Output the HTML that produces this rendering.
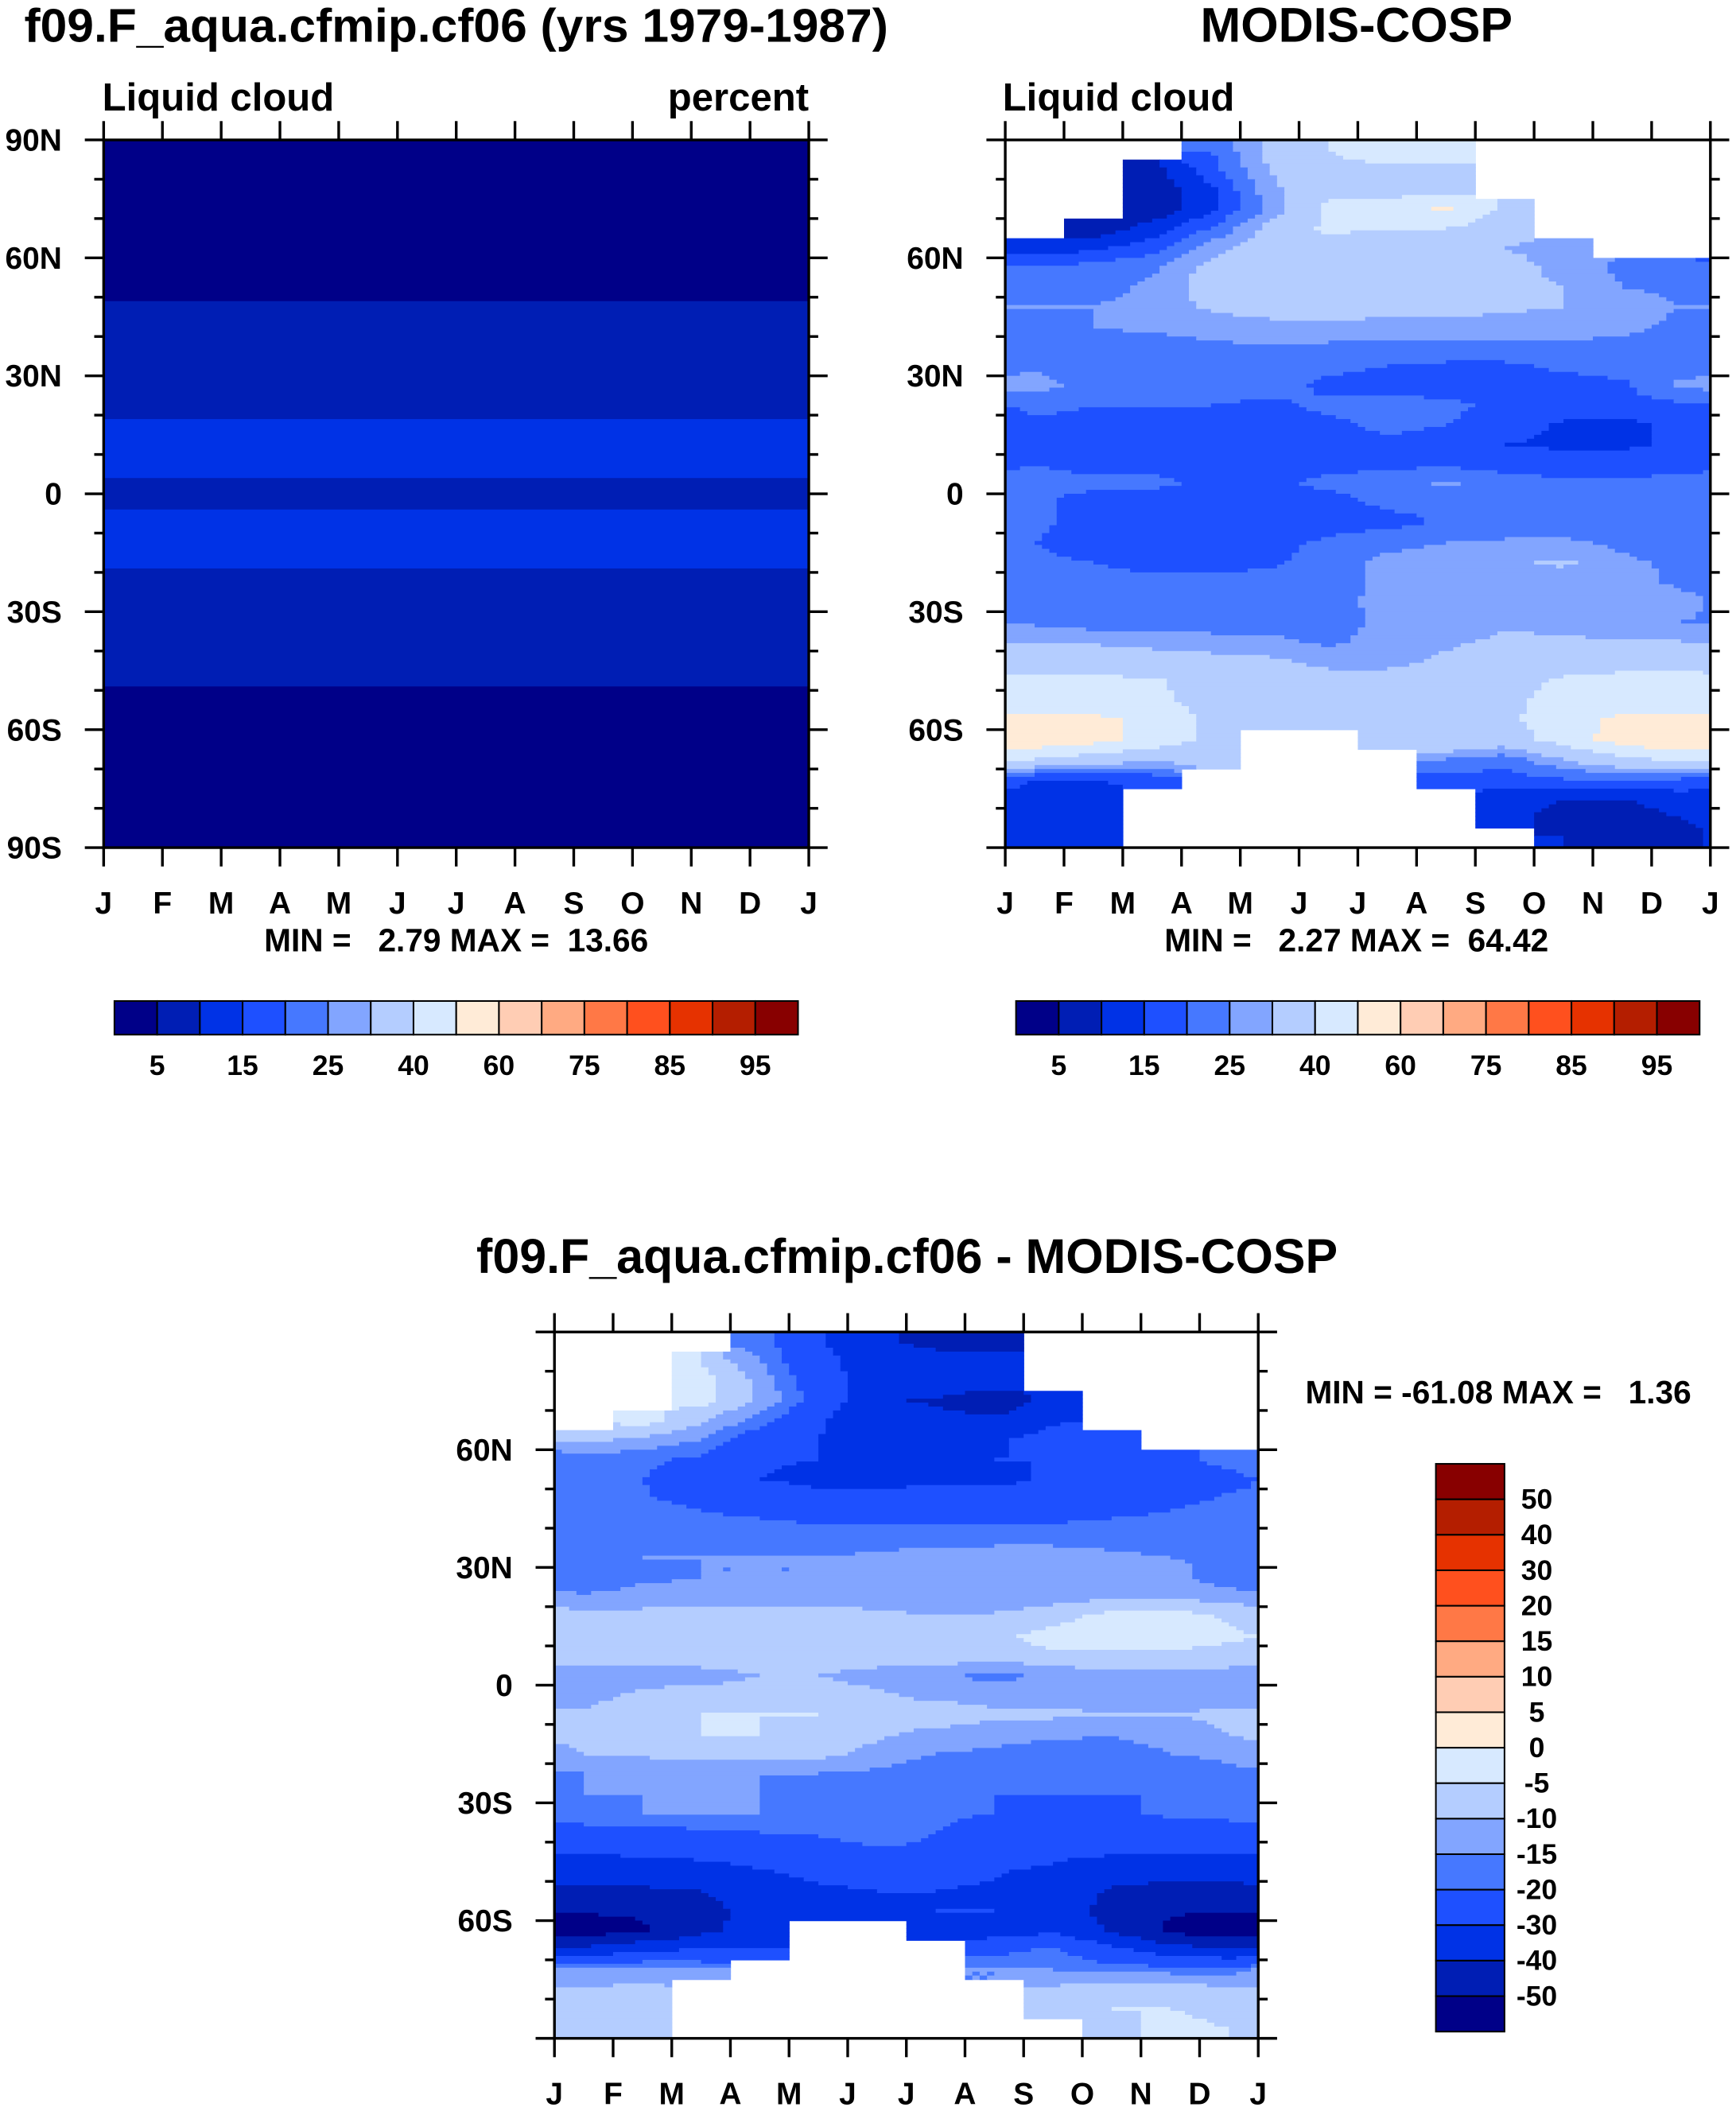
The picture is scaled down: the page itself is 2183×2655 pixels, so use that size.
<!DOCTYPE html>
<html><head><meta charset="utf-8"><style>
html,body{margin:0;padding:0;background:#fff}
svg{display:block}
text{font-family:"Liberation Sans",Arial,sans-serif;font-weight:bold;fill:#000}
</style></head><body>
<svg id="fig" xmlns="http://www.w3.org/2000/svg" width="2183" height="2655" viewBox="0 0 1290 1569">
<rect width="1290" height="1569" fill="#fff"/>
<text x="18" y="31" font-size="35" textLength="642" lengthAdjust="spacingAndGlyphs">f09.F_aqua.cfmip.cf06 (yrs 1979-1987)</text>
<text x="1008" y="31" font-size="36" text-anchor="middle">MODIS-COSP</text>
<text x="76" y="82" font-size="29">Liquid cloud</text>
<text x="601" y="82" font-size="29" text-anchor="end">percent</text>
<text x="745" y="82" font-size="29">Liquid cloud</text>
<text x="339" y="707" font-size="24" text-anchor="middle" xml:space="preserve">MIN =   2.79 MAX =  13.66</text>
<text x="1008" y="707" font-size="24" text-anchor="middle" xml:space="preserve">MIN =   2.27 MAX =  64.42</text>
<text x="674" y="946" font-size="36" text-anchor="middle">f09.F_aqua.cfmip.cf06 - MODIS-COSP</text>
<text x="970" y="1043" font-size="24" xml:space="preserve">MIN = -61.08 MAX =   1.36</text>
<g id="layer"></g>
</svg>
<script>
// ---- data ----
const months = ["J","F","M","A","M","J","J","A","S","O","N","D","J"];
const latTicks = [90,60,30,0,-30,-60,-90];
const latTickLabels = ["90N","60N","30N","0","30S","60S","90S"];
const absLevels = [5,10,15,20,25,30,40,50,60,70,75,80,85,90,95];
const absLabels = ["5","15","25","40","60","75","85","95"];
const diffLevels = [-50,-40,-30,-20,-15,-10,-5,0,5,10,15,20,30,40,50];
const diffLabels = ["50","40","30","20","15","10","5","0","-5","-10","-15","-20","-30","-40","-50"];
const palette = ['#000088','#001eb4','#0032e6','#1e50ff','#4678ff','#82a5ff','#b4cdff','#d7e9ff','#ffebd7','#ffcdb4','#ffaa82','#ff7846','#ff501e','#e63200','#b41e00','#880000'];
// model zonal-mean liquid cloud (%), rows 87.5N .. 87.5S every 5 deg
const modelProfile = [3,3,3,3,3,3,3,3, 5.5,7,7,7,7,7, 11,12,12, 9,9, 12,12,11, 7,7,7,7,7,5.5, 3,3,3,3,3,3,3,3];
const n = null;
// MODIS liquid cloud (%), rows 87.5N..87.5S, cols Jan..Dec
const obs = [
[n,n,n,20,32,40,48,48,n,n,n,n],
[n,n,8,18,30,38,36,36,n,n,n,n],
[n,n,6,14,28,38,36,36,n,n,n,n],
[n,n,6,14,26,42,44,52,38,n,n,n],
[n,6,12,20,32,42,40,40,34,n,n,n],
[12,14,18,28,33,35,35,34,30,27,n,n],
[20,22,24,32,33,35,35,33,33,28,24,22],
[22,23,26,33,35,35,35,35,32,30,25,24],
[25,25,27,31,33,33,32,32,31,30,27,25],
[22,25,26,27,28,29,28,28,28,27,26,24],
[23,23,23,24,25,24,24,24,24,24,24,23],
[24,22,22,22,22,21,20,19,19,21,22,23],
[27,23,22,22,22,19,18,18,18,18,19,26],
[21,20,20,20,19,21,22,21,19,18,18,19],
[19,19,18,18,18,19,21,20,18,14,13,17],
[18,18,17,18,18,18,19,18,15,14,14,16],
[20,19,19,19,19,19,19,19,18,18,18,19],
[21,21,21,19,19,21,22,26,22,21,21,21],
[21,18,17,17,17,18,21,21,21,21,21,21],
[21,18,17,17,17,18,18,21,21,22,22,21],
[20,18,17,17,18,21,24,25,26,26,24,22],
[21,20,18,18,19,23,26,27,29,31,26,24],
[22,22,22,22,22,23,26,27,27,27,27,24],
[22,22,22,22,23,24,26,27,27,27,27,27],
[24,22,22,22,23,23,26,27,29,28,26,25],
[29,29,28,27,26,24,27,29,31,31,30,30],
[36,35,33,32,31,28,28,31,35,36,36,36],
[42,42,41,36,34,33,33,35,37,41,43,43],
[44,44,43,36,34,33,33,34,37,44,46,45],
[52,52,48,38,35,35,33,33,38,46,52,53],
[58,54,46,38,n,n,36,38,35,44,55,60],
[40,35,32,32,n,n,n,25,22,30,38,42],
[15,15,17,n,n,n,n,18,18,20,20,20],
[13,12,n,n,n,n,n,n,12,10,10,12],
[12,10,n,n,n,n,n,n,12,8,8,10],
[13,11,n,n,n,n,n,n,n,10,6,8]
];
const model = modelProfile.map(v => months.slice(0,12).map(() => v));
const diff = obs.map((row,j) => row.map((v,i) => v===null ? null : model[j][i] - v));

// ---- drawing ----
const NS = "http://www.w3.org/2000/svg";
const layer = document.getElementById('layer');
function mk(tag, attrs, parent){ const e=document.createElementNS(NS,tag); for(const k in attrs) e.setAttribute(k,attrs[k]); (parent||layer).appendChild(e); return e; }
function levelIndex(v, lv){ let k=0; for(const l of lv) if(v>=l) k++; return k; }

function sample(grid, x, y){
  const nr=grid.length, nc=grid[0].length;
  const ci=Math.min(nc-1,Math.floor(x)), rj=Math.min(nr-1,Math.floor(y));
  if(grid[rj][ci]===null) return null;
  const gx=x-0.5, gy=y-0.5;
  const i0=Math.floor(gx), j0=Math.floor(gy), fx=gx-i0, fy=gy-j0;
  let s=0, w=0;
  for(const [di,dj,wt] of [[0,0,(1-fx)*(1-fy)],[1,0,fx*(1-fy)],[0,1,(1-fx)*fy],[1,1,fx*fy]]){
    const ii=((i0+di)%nc+nc)%nc, jj=Math.max(0,Math.min(nr-1,j0+dj));
    const v=grid[jj][ii]; if(v===null||wt===0) continue; s+=v*wt; w+=wt;
  }
  return w>0 ? s/w : grid[rj][ci];
}

function drawPanel(name, grid, lv, px, py, pw, ph, showAllLat, xLabY){
  const g = mk('g',{});
  
  
  const nr=grid.length, nc=grid[0].length, SX=8, SY=5;
  const cw=pw/(nc*SX), rh=ph/(nr*SY);
  for(let r=0;r<nr*SY;r++){
    let start=0, cur=undefined;
    const flush=(end)=>{
      if(cur!==undefined && cur!==null){
        const e=mk('rect',{x:(px+start*cw).toFixed(2),y:(py+r*rh).toFixed(2),width:((end-start)*cw+0.4).toFixed(2),height:(rh+0.4).toFixed(2),fill:palette[cur]},g);
        
        
      }
    };
    for(let c=0;c<=nc*SX;c++){
      let k;
      if(c<nc*SX){ const v=sample(grid,(c+0.5)/SX,(r+0.5)/SY); k = v===null?null:levelIndex(v,lv); }
      if(c===nc*SX || k!==cur){ flush(c); start=c; cur=k; }
    }
  }
  const fr=mk('rect',{x:px,y:py,width:pw,height:ph,fill:'none',stroke:'#000','stroke-width':2},g);
  
  
  const yOf = lat => py + (90-lat)/180*ph;
  for(let lat=-90;lat<=90;lat+=10){
    const major = lat%30===0, L = major?14:7, y=yOf(lat);
    mk('line',{x1:px-L,y1:y,x2:px,y2:y,stroke:'#000','stroke-width':2},g);
    mk('line',{x1:px+pw,y1:y,x2:px+pw+L,y2:y,stroke:'#000','stroke-width':2},g);
  }
  latTicks.forEach((lat,i)=>{
    if(!showAllLat && (lat===90||lat===-90)) return;
    const t=mk('text',{x:px-31,y:yOf(lat)+8,'font-size':23,'text-anchor':'end'},g);
    t.textContent=latTickLabels[i];
    
    
  });
  months.forEach((m,i)=>{
    const x=px+i*pw/12;
    mk('line',{x1:x,y1:py-14,x2:x,y2:py,stroke:'#000','stroke-width':2},g);
    mk('line',{x1:x,y1:py+ph,x2:x,y2:py+ph+14,stroke:'#000','stroke-width':2},g);
    const t=mk('text',{x:x,y:xLabY,'font-size':23,'text-anchor':'middle'},g);
    t.textContent=m;
    
    
  });
}

function hBar(name, x0, y0, w, h){
  const g=mk('g',{});
  
  
  const bw=w/16;
  palette.forEach((c,i)=>{
    const r=mk('rect',{x:x0+i*bw,y:y0,width:bw,height:h,fill:c,stroke:'#000','stroke-width':1.2},g);
    
    
  });
  absLabels.forEach((lab,k)=>{
    const t=mk('text',{x:x0+(2*k+1)*bw,y:y0+h+30,'font-size':21,'text-anchor':'middle'},g);
    t.textContent=lab;
    
    
  });
}
function vBar(name, x0, y0, w, h){
  const g=mk('g',{});
  
  
  const bh=h/16;
  palette.slice().reverse().forEach((c,i)=>{
    const r=mk('rect',{x:x0,y:y0+i*bh,width:w,height:bh,fill:c,stroke:'#000','stroke-width':1.2},g);
    
    
  });
  diffLabels.forEach((lab,k)=>{
    const t=mk('text',{x:x0+w+24,y:y0+(k+1)*bh+7,'font-size':21,'text-anchor':'middle'},g);
    t.textContent=lab;
    
    
  });
}

drawPanel('model', model, absLevels, 77, 104, 524, 526, true, 679);
drawPanel('obs', obs, absLevels, 747, 104, 524, 526, false, 679);
drawPanel('diff', diff, diffLevels, 412, 990, 523, 525, false, 1564);
hBar('model-colorbar', 85, 744, 508, 25);
hBar('obs-colorbar', 755, 744, 508, 25);
vBar('diff-colorbar', 1067, 1088, 51, 422);
</script>
</body></html>
